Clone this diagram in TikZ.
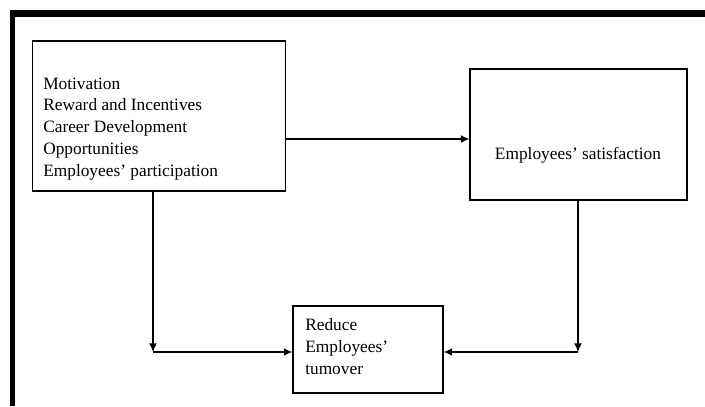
\documentclass[tikz,border=0pt]{standalone}
\usepackage{fontspec}
\setmainfont{Liberation Serif}
\usetikzlibrary{arrows.meta}
\begin{document}
\begin{tikzpicture}[x=0.75pt,y=-0.75pt,
  box/.style={draw=black,line width=0.8pt,rectangle,inner sep=0pt},
  lbl/.style={inner sep=0pt,font=\fontsize{13pt}{16.3pt}\selectfont,align=left},
  conn/.style={line width=1.1pt,-{Latex[length=6.5pt,width=6pt]}},
  plain/.style={line width=1.1pt}]
\useasboundingbox (0,0) rectangle (705,406);
% thick frame
\fill[black] (10,10) rectangle (705,17);
\fill[black] (10,10) rectangle (15,406);
% boxes
\node[box,minimum width=189.75pt,minimum height=112.5pt] (L) at (159,116) {};
\node[box,minimum width=162.75pt,minimum height=98.25pt] (R) at (578.5,134.5) {};
\node[box,minimum width=112.5pt,minimum height=65.25pt] (B) at (368,349.5) {};
% texts
\node[lbl,anchor=base west] (Lt) at (43,176) {Motivation\\Reward and Incentives\\Career Development\\Opportunities\\Employees’ participation};
\node[lbl] (Rt) at (578,155) {Employees’ satisfaction};
\node[lbl,anchor=base west] (Bt) at (305,374) {Reduce\\Employees’\\tumover};
% connectors
\coordinate (c1) at (153,352);
\coordinate (c2) at (578,352);
\draw[conn] (L.east |- 0,139) -- (R.west |- 0,139);
\draw[conn] (L.south -| c1) -- (c1);
\draw[conn] (R.south -| c2) -- (c2);
\draw[conn] (c1) -- (B.west |- c1);
\draw[conn] (c2) -- (B.east |- c2);
\end{tikzpicture}
\end{document}
